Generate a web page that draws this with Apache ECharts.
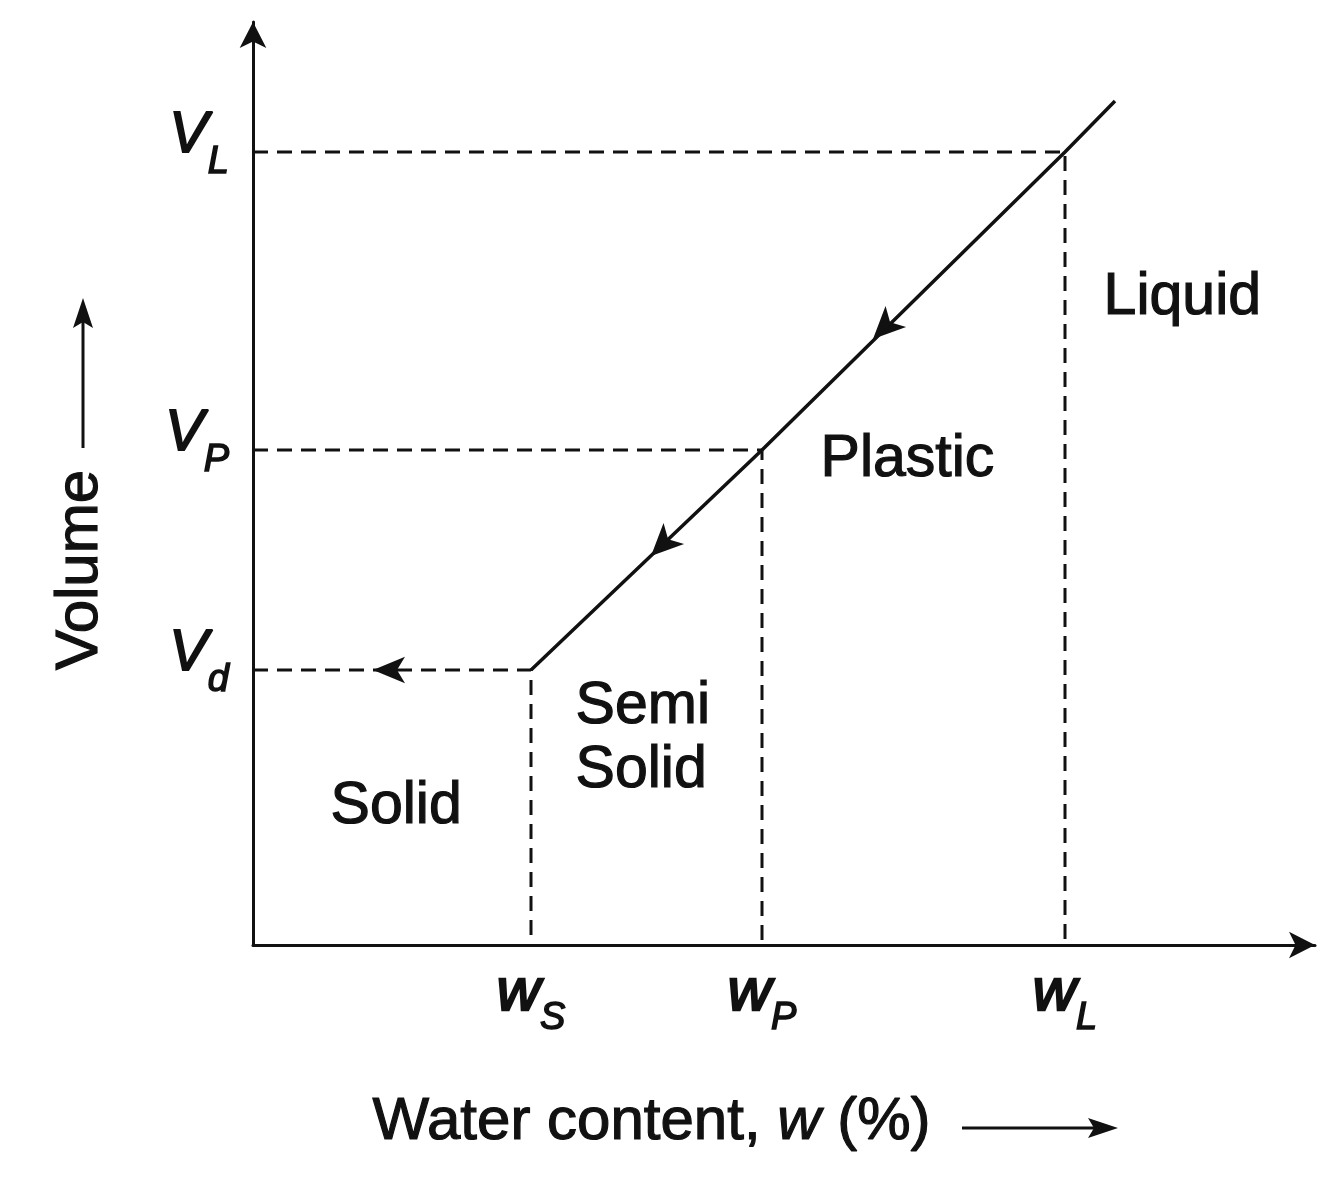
<!DOCTYPE html>
<html>
<head>
<meta charset="utf-8">
<script src="https://cdn.jsdelivr.net/npm/echarts@6/dist/echarts.min.js"></script>
<style>
html,body{margin:0;padding:0;background:#fff;}
#c{width:1318px;height:1200px;}
</style>
</head>
<body>
<div id="c"></div>
<script>
// Water content limits (arbitrary units) and corresponding volumes
const limitNames = ['S', 'P', 'L'];          // w_S, w_P, w_L
const waterLimits = [27.8, 50.9, 81.2];
const volumeNames = ['d', 'P', 'L'];         // V_d, V_P, V_L
const volumeLevels = [27.5, 49.5, 79.3];
// Volume-water content curve (end beyond liquid limit)
const curveW = [27.8, 50.9, 81.2, 86.2];
const curveV = [27.5, 49.5, 79.3, 84.4];
// Direction arrows on curve and on Vd guide
const flowArrowW = [62.0, 39.8];
const flowArrowV = [60.6, 38.9];
const dryArrowW = [12.0];
const dryArrowV = [27.5];
const xMax = 106.2, yMax = 92.3;

const FONT = 'Liberation Sans, Arial, sans-serif';
const INK = '#111';

const chart = echarts.init(document.getElementById('c'), null, {renderer: 'canvas'});

const guideSeries = waterLimits.map((w, i) => ({
  type: 'line',
  data: [[0, volumeLevels[i]], [w, volumeLevels[i]], [w, 0]],
  symbol: 'none',
  lineStyle: {color: INK, width: 3, type: [15, 9]},
  silent: true,
  z: 2
}));

const txt = (left, top, text, extra) => ({
  type: 'text', left, top,
  style: Object.assign({text, font: '59px ' + FONT, fill: INK, stroke: INK, lineWidth: 1.2}, extra || {})
});

const option = {
  backgroundColor: '#fff',
  animation: false,
  grid: {left: 253, right: 3, top: 22, bottom: 255},
  xAxis: {
    type: 'value', min: 0, max: xMax,
    splitLine: {show: false},
    axisTick: {show: false},
    axisLine: {show: true, lineStyle: {color: INK, width: 3}, symbol: ['none', 'arrow'], symbolSize: [20, 26]},
    axisLabel: {
      customValues: waterLimits,
      margin: 18,
      formatter: v => {
        const i = waterLimits.indexOf(v);
        return i < 0 ? '' : '{w|w}{s|' + limitNames[i] + '}';
      },
      rich: {
        w: {fontFamily: FONT, fontSize: 60, fontStyle: 'italic', color: INK, textBorderColor: INK, textBorderWidth: 2.5, verticalAlign: 'bottom', padding: [0, 0, 14, 0]},
        s: {fontFamily: FONT, fontSize: 38, fontStyle: 'italic', color: INK, textBorderColor: INK, textBorderWidth: 1.5, verticalAlign: 'bottom'}
      }
    }
  },
  yAxis: {
    type: 'value', min: 0, max: yMax,
    splitLine: {show: false},
    axisTick: {show: false},
    axisLine: {show: true, lineStyle: {color: INK, width: 3}, symbol: ['none', 'arrow'], symbolSize: [20, 26]},
    axisLabel: {
      customValues: volumeLevels,
      margin: 24,
      formatter: v => {
        const i = volumeLevels.indexOf(v);
        return i < 0 ? '' : '{v|V}{s|' + volumeNames[i] + '}';
      },
      rich: {
        v: {fontFamily: FONT, fontSize: 58, fontStyle: 'italic', color: INK, textBorderColor: INK, textBorderWidth: 1.8, verticalAlign: 'bottom', padding: [0, 0, 32, 0]},
        s: {fontFamily: FONT, fontSize: 38, fontStyle: 'italic', color: INK, textBorderColor: INK, textBorderWidth: 1.5, verticalAlign: 'bottom', padding: [0, 0, 16, 0]}
      }
    }
  },
  series: guideSeries.concat([
    {
      type: 'line',
      data: curveW.map((w, i) => [w, curveV[i]]),
      symbol: 'none',
      lineStyle: {color: INK, width: 3.5},
      silent: true,
      z: 3
    },
    {
      type: 'scatter',
      data: flowArrowW.map((w, i) => [w, flowArrowV[i]]),
      symbol: 'arrow',
      symbolSize: [22, 32],
      symbolRotate: 134.5,
      itemStyle: {color: INK, opacity: 1},
      silent: true,
      z: 4
    },
    {
      type: 'scatter',
      data: dryArrowW.map((w, i) => [w, dryArrowV[i]]),
      symbol: 'arrow',
      symbolSize: [20, 32],
      symbolRotate: 90,
      itemStyle: {color: INK, opacity: 1},
      silent: true,
      z: 4
    }
  ]),
  graphic: [
    txt(1103, 268, 'Liquid'),
    txt(820, 430, 'Plastic'),
    txt(575, 675, 'Semi\nSolid', {lineHeight: 64}),
    txt(330, 777, 'Solid'),
    {type: 'text', left: 372, top: 1092, style: {
      text: '{a|Water content, }{b|w}{a| (%)}',
      rich: {
        a: {font: '60px ' + FONT, fill: INK, stroke: INK, lineWidth: 1.2},
        b: {font: 'italic 60px ' + FONT, fill: INK, stroke: INK, lineWidth: 1.2}
      }
    }},
    {type: 'line', shape: {x1: 962, y1: 1128, x2: 1100, y2: 1128}, style: {stroke: INK, lineWidth: 3}},
    {type: 'polygon', shape: {points: [[1118, 1128], [1088, 1118], [1094, 1128], [1088, 1138]]}, style: {fill: INK}},
    {type: 'text', x: 80, y: 570, rotation: Math.PI / 2, style: {
      text: 'Volume', font: '60px ' + FONT, fill: INK, stroke: INK, lineWidth: 1.2, align: 'center', verticalAlign: 'middle'
    }},
    {type: 'line', shape: {x1: 83, y1: 448, x2: 83, y2: 315}, style: {stroke: INK, lineWidth: 3}},
    {type: 'polygon', shape: {points: [[83, 298], [73, 328], [83, 322], [93, 328]]}, style: {fill: INK}}
  ]
};
chart.setOption(option);
</script>
</body>
</html>
